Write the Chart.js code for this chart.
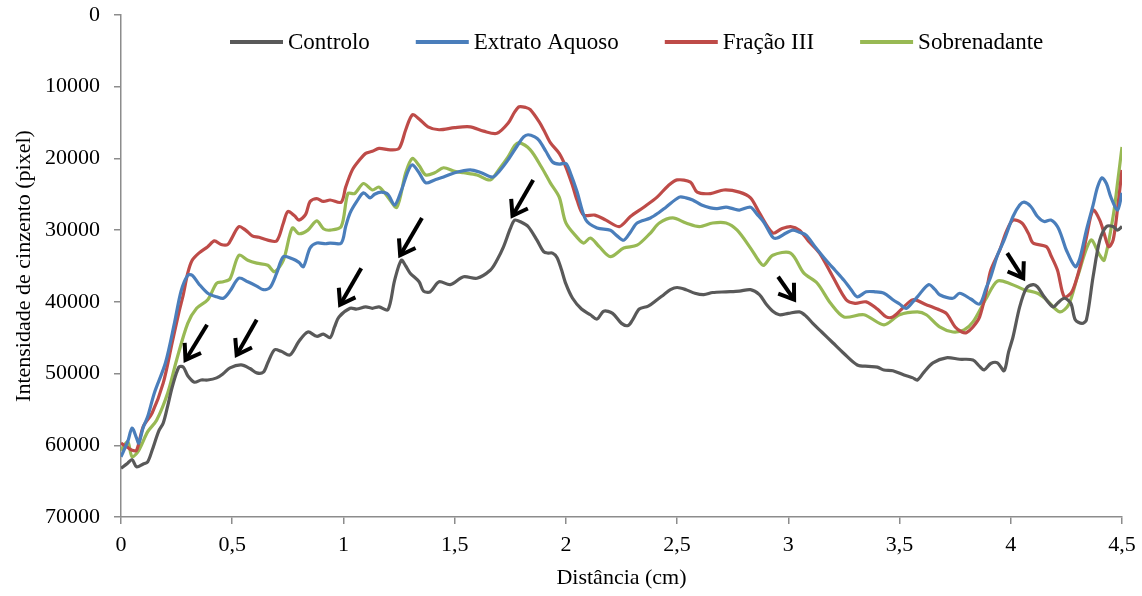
<!DOCTYPE html>
<html>
<head>
<meta charset="utf-8">
<script src="https://cdn.jsdelivr.net/npm/chart.js@4/dist/chart.umd.min.js"></script>
<style>
  html, body { margin: 0; padding: 0; background: #fff; }
  #wrap { width: 1142px; height: 596px; }
</style>
</head>
<body>
<div id="wrap"><canvas id="profileChart" width="1142" height="596"></canvas></div>
<script>
// Series labels
const seriesLabels = ['Controlo', 'Extrato Aquoso', 'Fração III', 'Sobrenadante'];

// Controlo (distance in cm / grey intensity)
const controloX = [0.00, 0.03, 0.05, 0.07, 0.10, 0.12, 0.14, 0.17, 0.19, 0.21, 0.23, 0.26, 0.28, 0.30, 0.33, 0.36, 0.39, 0.43, 0.46, 0.49,
  0.54, 0.58, 0.61, 0.64, 0.66, 0.69, 0.72, 0.76, 0.80, 0.84, 0.88, 0.91, 0.94, 0.96, 0.98, 1.03, 1.06, 1.10, 1.13, 1.16,
  1.20, 1.23, 1.26, 1.28, 1.30, 1.34, 1.36, 1.39, 1.43, 1.48, 1.54, 1.60, 1.66, 1.69, 1.72, 1.75, 1.77, 1.80, 1.83, 1.87,
  1.90, 1.92, 1.94, 1.96, 1.98, 2.00, 2.03, 2.07, 2.11, 2.14, 2.17, 2.21, 2.25, 2.28, 2.30, 2.33, 2.37, 2.41, 2.44, 2.47,
  2.50, 2.54, 2.58, 2.62, 2.66, 2.72, 2.78, 2.83, 2.87, 2.90, 2.93, 2.96, 3.00, 3.05, 3.08, 3.11, 3.15, 3.20, 3.25, 3.31,
  3.36, 3.40, 3.43, 3.47, 3.52, 3.56, 3.58, 3.61, 3.65, 3.71, 3.77, 3.83, 3.86, 3.88, 3.91, 3.94, 3.97, 3.99, 4.01, 4.04,
  4.07, 4.10, 4.12, 4.15, 4.19, 4.21, 4.24, 4.27, 4.29, 4.32, 4.34, 4.37, 4.40, 4.43, 4.46, 4.48, 4.50];
const controloY = [63200, 62500, 62000, 63000, 62600, 62300, 60700, 58000, 56900, 54500, 51900, 49100, 49100, 50300, 51200, 50900, 50900, 50600, 50000, 49200,
  48800, 49300, 49900, 49800, 48500, 46700, 46900, 47400, 45500, 44200, 44800, 44500, 45000, 43500, 42100, 40900, 41000, 40700, 40900, 40700,
  41100, 37000, 34200, 35000, 36000, 37200, 38500, 38600, 37200, 37600, 36500, 36700, 35600, 34200, 32300, 29800, 28600, 28900, 29500, 31400,
  33000, 33200, 33200, 33800, 35500, 37500, 39500, 41000, 41800, 42400, 41300, 41600, 43000, 43300, 42500, 41000, 40600, 39700, 39000, 38300,
  38000, 38300, 38800, 39000, 38700, 38600, 38500, 38300, 39000, 40300, 41300, 41800, 41600, 41400, 42000, 43000, 44200, 45700, 47200, 48800,
  49000, 49100, 49500, 49600, 50200, 50600, 50900, 49800, 48500, 47800, 48000, 48100, 49000, 49500, 48600, 48500, 49600, 47000, 44900, 40700,
  38100, 37600, 37900, 39300, 40700, 40200, 39500, 40200, 42500, 43000, 42500, 36500, 31400, 29500, 29500, 30000, 29500];

// Extrato Aquoso
const extratoX = [0.00, 0.03, 0.05, 0.07, 0.08, 0.10, 0.12, 0.15, 0.20, 0.24, 0.27, 0.30, 0.32, 0.35, 0.39, 0.43, 0.46, 0.49, 0.53, 0.57,
  0.61, 0.64, 0.67, 0.70, 0.73, 0.77, 0.80, 0.82, 0.85, 0.88, 0.92, 0.94, 0.99, 1.01, 1.03, 1.06, 1.09, 1.12, 1.14, 1.17,
  1.20, 1.23, 1.26, 1.29, 1.31, 1.34, 1.37, 1.41, 1.45, 1.50, 1.57, 1.62, 1.67, 1.70, 1.74, 1.78, 1.81, 1.83, 1.86, 1.88,
  1.91, 1.94, 1.97, 2.00, 2.02, 2.05, 2.09, 2.14, 2.20, 2.23, 2.26, 2.29, 2.32, 2.38, 2.42, 2.45, 2.51, 2.54, 2.57, 2.61,
  2.65, 2.68, 2.72, 2.75, 2.78, 2.83, 2.86, 2.89, 2.93, 2.95, 2.99, 3.02, 3.05, 3.08, 3.12, 3.17, 3.21, 3.25, 3.28, 3.31,
  3.35, 3.39, 3.43, 3.47, 3.50, 3.53, 3.56, 3.58, 3.63, 3.66, 3.68, 3.74, 3.77, 3.82, 3.86, 3.89, 3.91, 3.94, 3.97, 4.01,
  4.04, 4.06, 4.09, 4.12, 4.15, 4.18, 4.21, 4.23, 4.25, 4.29, 4.31, 4.34, 4.37, 4.39, 4.41, 4.43, 4.45, 4.48, 4.50];
const extratoY = [61600, 59500, 57600, 59000, 59700, 57500, 56000, 52700, 48500, 43000, 38500, 36300, 36300, 37500, 38800, 39300, 39500, 38500, 36700, 37200,
  37800, 38300, 38000, 36000, 33700, 34000, 34500, 35100, 32500, 31800, 31900, 31800, 31800, 29500, 27600, 26000, 24800, 25500, 25000, 24700,
  25000, 26500, 24500, 21800, 20900, 22000, 23400, 23000, 22600, 22000, 21600, 22000, 22600, 21800, 20200, 18300, 17000, 16700, 17000, 17500,
  19000, 20500, 20800, 20700, 22000, 24600, 28600, 29700, 30000, 30800, 31400, 30300, 29000, 28300, 27500, 26800, 25400, 25500, 25800, 26500,
  26900, 27000, 26800, 27000, 27200, 26800, 27800, 28900, 31000, 31100, 30400, 30000, 30300, 30700, 32300, 34200, 35600, 37000, 38200, 39300,
  38600, 38600, 38800, 39700, 40300, 40900, 40000, 39300, 37600, 38300, 39000, 39500, 38800, 39600, 40300, 38000, 36500, 33500, 31400, 28100,
  26500, 26100, 26700, 28100, 28800, 28600, 29500, 31000, 32800, 35100, 34000, 30000, 26500, 24000, 22700, 23500, 25400, 27200, 24800];

// Fração III
const fracaoX = [0.00, 0.03, 0.05, 0.07, 0.10, 0.14, 0.19, 0.23, 0.26, 0.28, 0.30, 0.32, 0.35, 0.39, 0.42, 0.45, 0.48, 0.50, 0.53, 0.56,
  0.59, 0.62, 0.66, 0.70, 0.73, 0.75, 0.78, 0.80, 0.83, 0.85, 0.88, 0.91, 0.94, 0.99, 1.01, 1.04, 1.07, 1.10, 1.13, 1.16,
  1.21, 1.25, 1.28, 1.31, 1.34, 1.38, 1.43, 1.50, 1.57, 1.63, 1.69, 1.74, 1.77, 1.79, 1.82, 1.84, 1.88, 1.90, 1.93, 1.97,
  2.00, 2.03, 2.05, 2.08, 2.13, 2.18, 2.24, 2.29, 2.35, 2.41, 2.46, 2.50, 2.56, 2.59, 2.65, 2.71, 2.78, 2.83, 2.87, 2.93,
  2.97, 3.01, 3.05, 3.09, 3.14, 3.20, 3.26, 3.30, 3.35, 3.40, 3.44, 3.47, 3.51, 3.56, 3.62, 3.67, 3.71, 3.75, 3.78, 3.80,
  3.83, 3.86, 3.89, 3.91, 3.95, 3.98, 4.01, 4.05, 4.08, 4.10, 4.16, 4.18, 4.21, 4.24, 4.27, 4.29, 4.32, 4.34, 4.37, 4.40,
  4.42, 4.44, 4.46, 4.48, 4.50];
const fracaoY = [59700, 60300, 60700, 60700, 57400, 55500, 51300, 45700, 41500, 39000, 36000, 34200, 33200, 32300, 31500, 32000, 32000, 31000, 29500, 30000,
  30800, 31000, 31400, 31500, 29000, 27400, 28000, 28600, 27800, 26000, 25600, 26000, 25800, 26100, 24000, 21600, 20300, 19300, 19000, 18600,
  18800, 18600, 16000, 13900, 14500, 15600, 16000, 15700, 15600, 16200, 16500, 15100, 13500, 12800, 12900, 13200, 14900, 16000, 17800, 19300,
  21200, 23800, 25800, 27900, 27900, 28600, 29500, 28100, 26800, 25400, 23800, 23000, 23300, 24700, 24900, 24400, 24700, 25500, 27600, 30400,
  29800, 29500, 30000, 31500, 33200, 36500, 39700, 40200, 40000, 41000, 42100, 42100, 41000, 39700, 40400, 41000, 41600, 43500, 44200, 44300,
  43500, 42100, 38500, 35600, 32800, 30200, 28600, 29000, 30500, 31800, 32300, 33500, 35600, 39300, 38800, 37400, 34000, 31000, 27200, 28600,
  30500, 32300, 31400, 27000, 21600];

// Sobrenadante
const sobrenadanteX = [0.00, 0.03, 0.05, 0.08, 0.12, 0.16, 0.21, 0.25, 0.30, 0.34, 0.39, 0.43, 0.46, 0.49, 0.53, 0.57, 0.61, 0.66, 0.69, 0.73,
  0.77, 0.80, 0.84, 0.88, 0.91, 0.94, 0.99, 1.02, 1.05, 1.09, 1.13, 1.16, 1.20, 1.24, 1.28, 1.31, 1.34, 1.37, 1.41, 1.45,
  1.50, 1.54, 1.60, 1.66, 1.70, 1.74, 1.77, 1.79, 1.84, 1.89, 1.93, 1.97, 2.00, 2.05, 2.08, 2.11, 2.15, 2.20, 2.26, 2.32,
  2.38, 2.42, 2.48, 2.54, 2.60, 2.66, 2.72, 2.77, 2.83, 2.87, 2.89, 2.93, 3.01, 3.07, 3.13, 3.19, 3.25, 3.34, 3.43, 3.50,
  3.58, 3.62, 3.68, 3.74, 3.79, 3.83, 3.89, 3.94, 4.00, 4.06, 4.12, 4.16, 4.22, 4.26, 4.30, 4.36, 4.40, 4.42, 4.46, 4.48,
  4.50];
const sobrenadanteY = [60700, 59500, 61600, 60700, 58100, 56500, 52700, 48100, 43000, 40900, 39700, 37400, 37200, 36800, 33500, 34200, 34600, 34900, 35800, 34200,
  29700, 30500, 30000, 28700, 29800, 30000, 29500, 24900, 24900, 23500, 24400, 24000, 25400, 26800, 22000, 20000, 21000, 22300, 22000, 21300,
  21800, 22000, 22300, 23000, 21500, 19800, 18200, 17800, 18800, 21200, 23400, 25400, 29000, 31000, 31800, 31100, 32300, 33700, 32500, 32100,
  30400, 29000, 28300, 29000, 29500, 29000, 29000, 30000, 32500, 34400, 34900, 33500, 33200, 36000, 37400, 40200, 42100, 41800, 43200, 41800,
  41400, 41800, 43500, 44200, 43900, 42800, 39500, 37100, 37500, 38300, 38800, 39700, 41400, 40400, 36500, 31400, 33500, 34200, 28100, 23400,
  18400];

// Arrow annotations (tail -> tip, in data units)
const arrowTailX = [0.387, 0.61, 1.08, 1.353, 1.853, 2.954, 3.984];
const arrowTailY = [43200, 42500, 35300, 28300, 23000, 36500, 33200];
const arrowTipX = [0.29, 0.52, 0.985, 1.255, 1.76, 3.026, 4.056];
const arrowTipY = [48100, 47400, 40400, 33500, 28000, 39700, 36700];

const seriesColors = ['#595959', '#4a7ebb', '#be4b48', '#98b954'];
const serif = '"Liberation Serif", "Times New Roman", serif';

function toPoints(xs, ys) {
    return xs.map((x, i) => ({ x: x, y: ys[i] }));
}

function commaNumber(value) {
    return String(Math.round(value * 10) / 10).replace('.', ',');
}

// Arrows drawn from data coordinates through the chart scales
const arrowPlugin = {
    id: 'arrowPlugin',
    afterDatasetsDraw(chart) {
        const ctx = chart.ctx;
        const xs = chart.scales.x;
        const ys = chart.scales.y;
        ctx.save();
        ctx.strokeStyle = '#000';
        ctx.lineWidth = 4;
        ctx.lineCap = 'butt';
        ctx.lineJoin = 'miter';
        for (let i = 0; i < arrowTipX.length; i++) {
            const x0 = xs.getPixelForValue(arrowTailX[i]);
            const y0 = ys.getPixelForValue(arrowTailY[i]);
            const x1 = xs.getPixelForValue(arrowTipX[i]);
            const y1 = ys.getPixelForValue(arrowTipY[i]);
            const ang = Math.atan2(y1 - y0, x1 - x0);
            const head = 17;
            ctx.beginPath();
            ctx.moveTo(x0, y0);
            ctx.lineTo(x1, y1);
            ctx.stroke();
            ctx.beginPath();
            ctx.moveTo(x1 - head * Math.cos(ang - 0.6), y1 - head * Math.sin(ang - 0.6));
            ctx.lineTo(x1, y1);
            ctx.lineTo(x1 - head * Math.cos(ang + 0.6), y1 - head * Math.sin(ang + 0.6));
            ctx.stroke();
        }
        ctx.restore();
    }
};

// Legend drawn inside the plot area, across the top
const insideLegend = {
    id: 'insideLegend',
    afterDraw(chart) {
        const ctx = chart.ctx;
        ctx.save();
        ctx.font = '23px ' + serif;
        ctx.textBaseline = 'middle';
        let x = 230;
        const y = 42;
        chart.data.datasets.forEach(ds => {
            ctx.strokeStyle = ds.borderColor;
            ctx.lineWidth = 4;
            ctx.beginPath();
            ctx.moveTo(x, y);
            ctx.lineTo(x + 53, y);
            ctx.stroke();
            ctx.fillStyle = '#000';
            ctx.fillText(ds.label, x + 58, y + 1);
            x += 58 + ctx.measureText(ds.label).width + 46;
        });
        ctx.restore();
    }
};

const allX = [controloX, extratoX, fracaoX, sobrenadanteX];
const allY = [controloY, extratoY, fracaoY, sobrenadanteY];

const datasets = seriesLabels.map((label, i) => ({
    label: label,
    data: toPoints(allX[i], allY[i]),
    borderColor: seriesColors[i],
    backgroundColor: seriesColors[i],
    borderWidth: 3.2,
    pointRadius: 0,
    fill: false,
    tension: 0.3
}));

const ctx = document.getElementById('profileChart').getContext('2d');
new Chart(ctx, {
    type: 'line',
    data: { datasets: datasets },
    options: {
        responsive: false,
        animation: false,
        devicePixelRatio: 1,
        layout: { padding: { top: 15, right: 20, left: 0, bottom: 0 } },
        plugins: {
            legend: { display: false },
            tooltip: { enabled: false }
        },
        scales: {
            x: {
                type: 'linear',
                min: 0,
                max: 4.5,
                afterFit: scale => {
                    scale.height = 79;
                    scale.paddingLeft = 0;
                    scale.paddingRight = 0;
                },
                ticks: {
                    stepSize: 0.5,
                    color: '#000',
                    padding: 8,
                    maxRotation: 0,
                    font: { family: serif, size: 22 },
                    callback: v => commaNumber(v)
                },
                grid: { drawOnChartArea: false, drawTicks: true, tickLength: 7, color: '#8c8c8c', lineWidth: 1.5 },
                border: { color: '#8c8c8c', width: 1.5 },
                title: {
                    display: true,
                    text: 'Distância (cm)',
                    color: '#000',
                    font: { family: serif, size: 22 },
                    padding: { top: 0, bottom: 5 }
                }
            },
            y: {
                type: 'linear',
                reverse: true,
                min: 0,
                max: 70000,
                afterFit: scale => {
                    scale.width = 121;
                    scale.paddingTop = 0;
                    scale.paddingBottom = 0;
                },
                ticks: {
                    stepSize: 10000,
                    color: '#000',
                    padding: 14,
                    font: { family: serif, size: 22 },
                    callback: v => String(v)
                },
                grid: { drawOnChartArea: false, drawTicks: true, tickLength: 7, color: '#8c8c8c', lineWidth: 1.5 },
                border: { color: '#8c8c8c', width: 1.5 },
                title: {
                    display: true,
                    text: 'Intensidade de cinzento (pixel)',
                    color: '#000',
                    font: { family: serif, size: 22 },
                    padding: { top: 11, bottom: 0 }
                }
            }
        }
    },
    plugins: [arrowPlugin, insideLegend]
});
</script>
</body>
</html>
